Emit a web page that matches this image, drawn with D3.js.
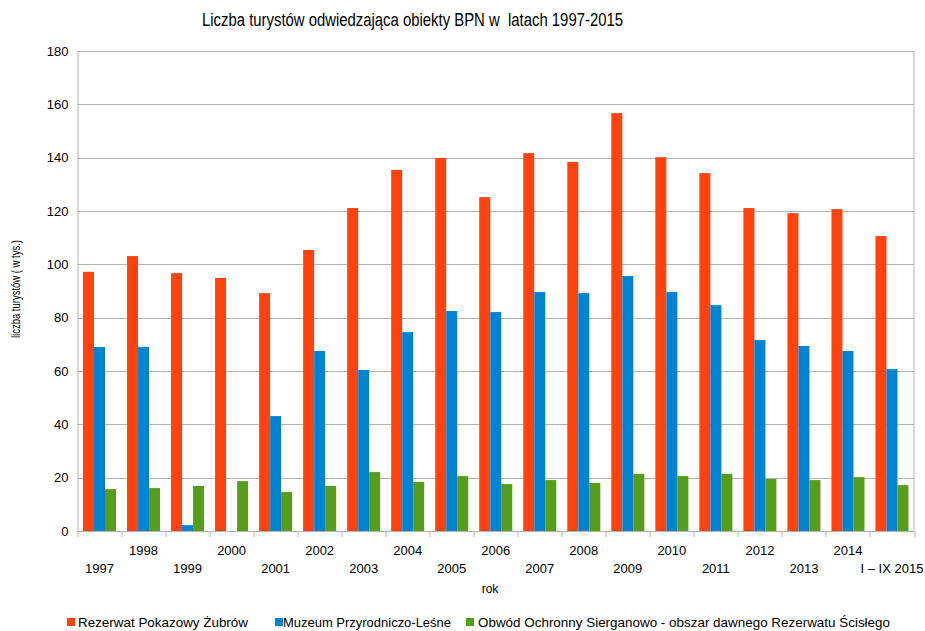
<!doctype html>
<html lang="pl">
<head>
<meta charset="utf-8">
<title>Liczba turystów BPN</title>
<style>
  body { margin: 0; background: #fff; }
  text { font-family: "Liberation Sans", Arial, sans-serif; fill: #000; }
</style>
<script src="https://d3js.org/d3.v7.min.js"></script>
</head>
<body>
<div id="chart"></div>
<script>
// data (thousands of visitors)
var years = ["1997","1998","1999","2000","2001","2002","2003","2004","2005","2006",
             "2007","2008","2009","2010","2011","2012","2013","2014","I – IX 2015"];
var seriesNames = ["Rezerwat Pokazowy Żubrów", "Muzeum Przyrodniczo-Leśne",
                   "Obwód Ochronny Sierganowo - obszar dawnego Rezerwatu Ścisłego"];
var rezerwat = [97.2, 103.1, 96.7, 94.9, 89.2, 105.4, 121.1, 135.4, 139.9, 125.2,
                141.7, 138.4, 156.7, 140.2, 134.2, 121.1, 119.2, 120.7, 110.6];
var muzeum = [69.0, 69.0, 2.2, 0, 43.1, 67.5, 60.4, 74.6, 82.5, 82.1,
              89.6, 89.2, 95.6, 89.6, 84.7, 71.6, 69.4, 67.5, 60.7];
var obwod = [15.7, 16.1, 16.9, 18.7, 14.6, 16.9, 22.1, 18.4, 20.6, 17.6,
             19.1, 18.0, 21.4, 20.6, 21.4, 19.5, 19.1, 20.2, 17.2];
var colors = ["#ff420e", "#0084d1", "#579d1c"];
var yTicks = [0, 20, 40, 60, 80, 100, 120, 140, 160, 180];

var allSeries = [rezerwat, muzeum, obwod];

var W = 925, H = 631;
var margin = {top: 51, right: 11, bottom: 100, left: 77.5},
    width = W - margin.left - margin.right,
    height = H - margin.top - margin.bottom;

var svg = d3.select("#chart").append("svg")
  .attr("width", W)
  .attr("height", H);

var g = svg.append("g")
  .attr("transform", "translate(" + margin.left + "," + margin.top + ")");

// scales
var x0 = d3.scaleBand()
  .domain(years)
  .range([0, width])
  .paddingInner(0.25)
  .paddingOuter(0.125);

var x1 = d3.scaleBand()
  .domain([0, 1, 2])
  .range([0, x0.bandwidth()]);

var y = d3.scaleLinear()
  .domain([0, 180])
  .range([height, 0]);

// gridlines
g.append("g")
  .selectAll("line")
  .data(yTicks)
  .enter()
  .append("line")
  .attr("x1", 0)
  .attr("x2", width)
  .attr("y1", function(d) { return Math.round(y(d)) + 0.5; })
  .attr("y2", function(d) { return Math.round(y(d)) + 0.5; })
  .attr("stroke", "#b3b3b3")
  .attr("stroke-width", 1);

// right border of plot area
g.append("line")
  .attr("x1", width).attr("x2", width)
  .attr("y1", 0).attr("y2", height)
  .attr("stroke", "#b3b3b3");

// bars
var groups = g.selectAll(".year")
  .data(years)
  .enter()
  .append("g")
  .attr("class", "year")
  .attr("transform", function(d) { return "translate(" + x0(d) + ",0)"; });

groups.selectAll("rect")
  .data(function(d, i) { return allSeries.map(function(s, k) { return {k: k, v: s[i]}; }); })
  .enter()
  .append("rect")
  .attr("x", function(d) { return x1(d.k); })
  .attr("width", x1.bandwidth())
  .attr("y", function(d) { return y(d.v); })
  .attr("height", function(d) { return height - y(d.v); })
  .attr("fill", function(d) { return colors[d.k]; });

// y axis
var yAxis = d3.axisLeft(y).tickValues(yTicks).tickSize(0).tickPadding(9);
var yg = g.append("g").call(yAxis);
yg.select(".domain").attr("stroke", "#b3b3b3");
yg.selectAll("text").style("font-size", "13px");

// x axis line and tick marks at category boundaries
g.append("line")
  .attr("x1", 0).attr("x2", width)
  .attr("y1", height + 0.5).attr("y2", height + 0.5)
  .attr("stroke", "#b3b3b3");

g.append("g")
  .selectAll("line")
  .data(d3.range(years.length + 1))
  .enter()
  .append("line")
  .attr("x1", function(i) { return Math.round(i * x0.step()) + 0.5; })
  .attr("x2", function(i) { return Math.round(i * x0.step()) + 0.5; })
  .attr("y1", height)
  .attr("y2", height + 6)
  .attr("stroke", "#b3b3b3");

// staggered x labels
g.append("g")
  .selectAll("text")
  .data(years)
  .enter()
  .append("text")
  .attr("x", function(d) { return x0(d) + x0.bandwidth() / 2; })
  .attr("y", function(d, i) { return height + (i % 2 == 0 ? 42 : 24); })
  .attr("text-anchor", "middle")
  .style("font-size", "13px")
  .text(function(d) { return d; });

// axis titles
svg.append("text")
  .attr("x", 490)
  .attr("y", 593)
  .attr("text-anchor", "middle")
  .style("font-size", "12px")
  .text("rok");

svg.append("text")
  .attr("transform", "translate(20,289) rotate(-90)")
  .attr("text-anchor", "middle")
  .attr("textLength", 98)
  .attr("lengthAdjust", "spacingAndGlyphs")
  .style("font-size", "12px")
  .text("liczba turystów ( w tys.)");

// title
svg.append("text")
  .attr("x", 412.5)
  .attr("y", 26)
  .attr("text-anchor", "middle")
  .attr("textLength", 421)
  .attr("lengthAdjust", "spacingAndGlyphs")
  .style("font-size", "18px")
  .style("white-space", "pre")
  .text("Liczba turystów odwiedzająca obiekty BPN w  latach 1997-2015");

// legend
var legendX = [67, 275, 466];
var legendTextX = [11, 8, 12];
var legendLen = [170, 168, 412];
var legend = svg.append("g")
  .selectAll("g")
  .data(seriesNames)
  .enter()
  .append("g")
  .attr("transform", function(d, i) { return "translate(" + legendX[i] + ",618)"; });

legend.append("rect")
  .attr("width", 8)
  .attr("height", 8)
  .attr("fill", function(d, i) { return colors[i]; });

legend.append("text")
  .attr("x", function(d, i) { return legendTextX[i]; })
  .attr("y", 9)
  .attr("textLength", function(d, i) { return legendLen[i]; })
  .attr("lengthAdjust", "spacingAndGlyphs")
  .style("font-size", "13.5px")
  .text(function(d) { return d; });
</script>
</body>
</html>
